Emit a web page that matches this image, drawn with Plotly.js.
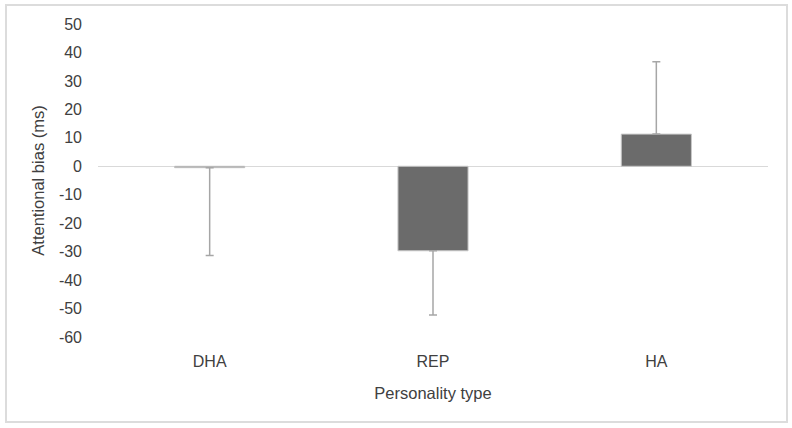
<!DOCTYPE html>
<html>
<head>
<meta charset="utf-8">
<script src="https://cdn.plot.ly/plotly-3.0.1.min.js"></script>
<style>
  body { margin: 0; background: #fff; }
  #frame { position: absolute; left: 5px; top: 4px; width: 779px; height: 415px; border: 2px solid #dcdcdc; pointer-events: none; }
  #chart { width: 792px; height: 428px; }
</style>
</head>
<body>
<div id="chart"></div>
<div id="frame"></div>
<script>
// personality types and mean attentional bias (ms)
let types = ["DHA", "REP", "HA"];
let bias = [-0.5, -29.7, 11.3];
// one-sided error bars (away from zero)
let errUp = [0, 0, 25.4];
let errDown = [30.9, 22.6, 0];
// y ticks, written with a plain hyphen like the original
let yTicks = [50, 40, 30, 20, 10, 0, -10, -20, -30, -40, -50, -60];
let yTickText = ["50", "40", "30", "20", "10", "0", "-10", "-20", "-30", "-40", "-50", "-60"];

let trace = {
    x: types,
    y: bias,
    type: 'bar',
    marker: {
        color: '#6b6b6b',
        line: {color: '#c8c8c8', width: 1}
    },
    error_y: {
        type: 'data',
        symmetric: false,
        array: errUp,
        arrayminus: errDown,
        color: '#a6a6a6',
        thickness: 1.5,
        width: 4
    },
    hoverinfo: 'none'
};

let layout = {
    width: 792,
    height: 428,
    margin: {l: 98, r: 24, t: 24, b: 91},
    paper_bgcolor: '#fff',
    plot_bgcolor: '#fff',
    showlegend: false,
    bargap: 0.686,
    font: {family: 'Liberation Sans, Arial, sans-serif', size: 16, color: '#404040'},
    xaxis: {
        showline: false,
        showgrid: false,
        zeroline: false,
        ticks: '',
        tickfont: {size: 16},
        ticklabelstandoff: 13,
        title: {text: 'Personality type', standoff: 18, font: {size: 16.5}}
    },
    yaxis: {
        range: [-60, 50],
        tickvals: yTicks,
        ticktext: yTickText,
        showgrid: false,
        showline: false,
        zeroline: true,
        zerolinecolor: '#d9d9d9',
        zerolinewidth: 1.5,
        ticks: '',
        tickfont: {size: 16},
        ticklabelstandoff: 15,
        title: {text: 'Attentional bias (ms)', standoff: 10, font: {size: 16.5}}
    }
};

Plotly.newPlot('chart', [trace], layout, {staticPlot: true});
</script>
</body>
</html>
